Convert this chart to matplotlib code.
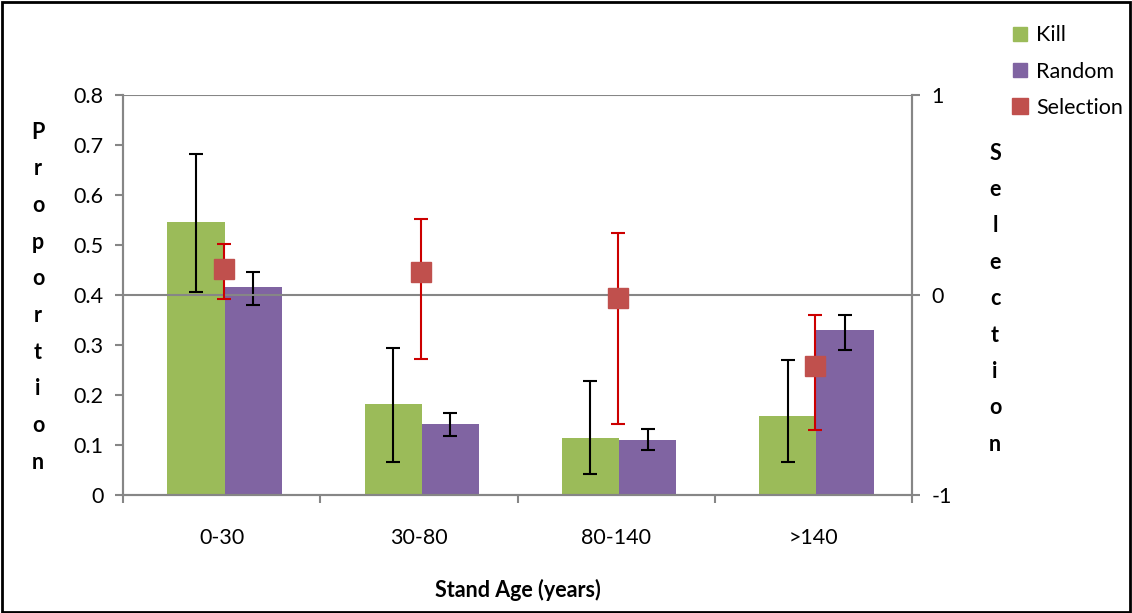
import numpy as np
import matplotlib
matplotlib.use("Agg")
import matplotlib.pyplot as plt
from matplotlib.lines import Line2D
from matplotlib.patches import Rectangle

plt.rcParams['font.family'] = ['Lato', 'DejaVu Sans']

categories = ['0-30', '30-80', '80-140', '>140']

kill = [0.547, 0.182, 0.115, 0.159]
kill_lo = [0.407, 0.067, 0.043, 0.067]
kill_hi = [0.682, 0.295, 0.228, 0.271]

random_ = [0.417, 0.143, 0.111, 0.331]
random_lo = [0.380, 0.118, 0.091, 0.291]
random_hi = [0.447, 0.165, 0.133, 0.360]

selection = [0.13, 0.117, -0.017, -0.353]
selection_lo = [-0.02, -0.32, -0.645, -0.677]
selection_hi = [0.255, 0.382, 0.31, -0.10]

green = '#9BBB59'
purple = '#8064A2'
red = '#C0504D'
grey = '#868686'
fs = 15.5

fig = plt.figure(figsize=(11.32, 6.13), dpi=100)
ax = fig.add_axes((123 / 1132, 118 / 613, 789 / 1132, 400 / 613))
ax2 = ax.twinx()

x = np.arange(len(categories))
w = 0.29

kill = np.array(kill)
random_ = np.array(random_)
sel = np.array(selection)

ax.bar(x - w / 2 + 0.015, kill, w, color=green, zorder=2)
ax.bar(x + w / 2 + 0.015, random_, w, color=purple, zorder=2)
ax.errorbar(x - w / 2 + 0.015, kill,
            yerr=[kill - np.array(kill_lo), np.array(kill_hi) - kill],
            fmt='none', ecolor='black', elinewidth=1.5, capsize=5, capthick=1.5, zorder=3)
ax.errorbar(x + w / 2 + 0.015, random_,
            yerr=[random_ - np.array(random_lo), np.array(random_hi) - random_],
            fmt='none', ecolor='black', elinewidth=1.5, capsize=5, capthick=1.5, zorder=3)

ax2.errorbar(x + 0.01, sel,
             yerr=[sel - np.array(selection_lo), np.array(selection_hi) - sel],
             fmt='none', ecolor='#CC0000', elinewidth=1.5, capsize=5, capthick=1.5, zorder=3)
ax2.plot(x + 0.01, sel, 's', color=red, markersize=14, linestyle='none', zorder=4)

ax.set_xlim(-0.5, 3.5)
ax.set_ylim(0, 0.8)
ax2.set_ylim(-1, 1)
ax.set_yticks(np.arange(0, 0.81, 0.1))
ax.set_yticklabels(['0', '0.1', '0.2', '0.3', '0.4', '0.5', '0.6', '0.7', '0.8'])
ax2.set_yticks([-1, 0, 1])
ax2.set_yticklabels(['-1', '0', '1'])
ax.set_xticks(x)
ax.set_xticklabels(categories)
ax.set_xticks(np.arange(-0.5, 3.6, 1), minor=True)
ax.tick_params(axis='x', which='major', length=0, pad=24, labelsize=fs)
ax.tick_params(axis='x', which='minor', length=6, color=grey, width=1.5)
ax.tick_params(axis='y', length=6, color=grey, width=1.5, labelsize=fs, pad=8)
ax2.tick_params(axis='y', length=6, color=grey, width=1.5, labelsize=fs, pad=8)

for a in (ax, ax2):
    a.spines['top'].set_visible(False)
    for s in ('left', 'right', 'bottom'):
        a.spines[s].set_color(grey)
        a.spines[s].set_linewidth(1.5)

# gridlines from the secondary axis
for v in (0, 1):
    ax2.axhline(v, color=grey, linewidth=1.5, zorder=1)
ax.set_zorder(ax2.get_zorder() - 1)
ax2.patch.set_visible(False)
ax.patch.set_visible(False)

ax.set_xlabel('Stand Age (years)', fontsize=fs, fontweight='bold', labelpad=22)

# stacked letter axis titles
for i, ch in enumerate('Proportion'):
    fig.text(38 / 1132, 1 - (132 + i * 36.7) / 613, ch, ha='center', va='center',
             fontsize=fs, fontweight='bold')
for i, ch in enumerate('Selection'):
    fig.text(995 / 1132, 1 - (153 + i * 36.4) / 613, ch, ha='center', va='center',
             fontsize=fs, fontweight='bold')

handles = [
    Line2D([], [], marker='s', color=green, linestyle='none', markersize=10),
    Line2D([], [], marker='s', color=purple, linestyle='none', markersize=10),
    Line2D([], [], marker='s', color=red, linestyle='none', markersize=12),
]
fig.legend(handles, ['Kill', 'Random', 'Selection'], loc='upper left',
           bbox_to_anchor=(988 / 1132, 1 - 6 / 613), frameon=False, fontsize=fs,
           handletextpad=0.15, labelspacing=0.75, handlelength=1.2)

fig.patches.append(Rectangle((0.002, 0.002), 0.996, 0.994, transform=fig.transFigure,
                             fill=False, edgecolor='black', linewidth=2))

fig.savefig('out.png', dpi=100)
